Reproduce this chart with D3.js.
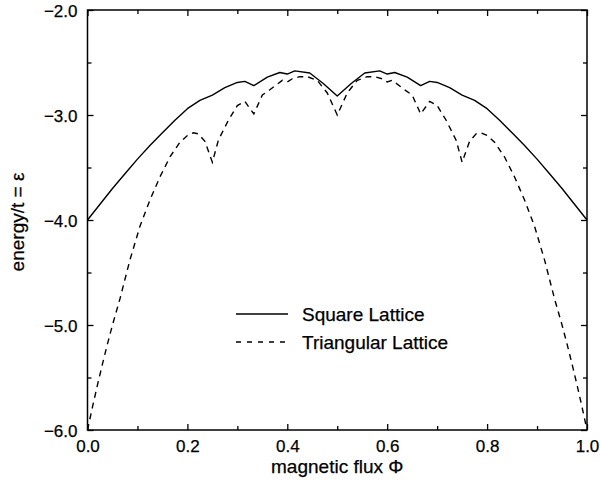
<!DOCTYPE html>
<html>
<head>
<meta charset="utf-8">
<script src="https://cdn.jsdelivr.net/npm/d3@7"></script>
<style>
  html, body { margin: 0; padding: 0; background: #fff; }
  svg { display: block; font-family: "Liberation Sans", Arial, Helvetica, sans-serif; }
</style>
</head>
<body>
<svg id="chart" width="600" height="483"></svg>
<script>
// flux values and energies
const phiSquare = [0, 0.025, 0.05, 0.075, 0.10, 0.125, 0.15, 0.175, 0.20, 0.225, 0.25, 0.275, 0.30, 0.315, 0.333, 0.36, 0.385, 0.40, 0.415, 0.445, 0.472, 0.50,
  0.528, 0.555, 0.585, 0.60, 0.615, 0.64, 0.667, 0.685, 0.70, 0.725, 0.75, 0.775, 0.80, 0.825, 0.85, 0.875, 0.90, 0.925, 0.95, 0.975, 1.0];
const energySquare = [-4.00, -3.85, -3.70, -3.56, -3.42, -3.29, -3.17, -3.05, -2.94, -2.86, -2.81, -2.74, -2.69, -2.68, -2.72, -2.64, -2.595, -2.61, -2.58, -2.60, -2.70, -2.82,
  -2.70, -2.60, -2.58, -2.61, -2.595, -2.64, -2.72, -2.68, -2.69, -2.74, -2.81, -2.86, -2.94, -3.05, -3.17, -3.29, -3.42, -3.56, -3.70, -3.85, -4.00];

const phiTriangular = [0, 0.01, 0.02, 0.03, 0.04, 0.05, 0.065, 0.085, 0.105, 0.125, 0.145, 0.165, 0.185, 0.20, 0.212, 0.222, 0.235, 0.25,
  0.262, 0.282, 0.30, 0.315, 0.333, 0.35, 0.365, 0.39, 0.40, 0.41, 0.425, 0.44, 0.46, 0.48, 0.50,
  0.52, 0.54, 0.56, 0.575, 0.59, 0.60, 0.61, 0.635, 0.65, 0.667, 0.685, 0.70, 0.718, 0.738, 0.75,
  0.765, 0.778, 0.788, 0.80, 0.815, 0.835, 0.855, 0.875, 0.895, 0.915, 0.935, 0.95, 0.96, 0.97, 0.98, 0.99, 1.0];
const energyTriangular = [-6.00, -5.78, -5.57, -5.37, -5.18, -5.00, -4.75, -4.38, -4.06, -3.81, -3.59, -3.40, -3.26, -3.195, -3.17, -3.18, -3.25, -3.45,
  -3.24, -3.05, -2.91, -2.87, -2.99, -2.81, -2.76, -2.67, -2.685, -2.655, -2.635, -2.635, -2.67, -2.79, -3.00,
  -2.79, -2.67, -2.635, -2.635, -2.655, -2.685, -2.67, -2.76, -2.81, -2.99, -2.87, -2.91, -3.05, -3.24, -3.45,
  -3.25, -3.18, -3.17, -3.195, -3.26, -3.40, -3.59, -3.81, -4.06, -4.38, -4.75, -5.00, -5.18, -5.37, -5.57, -5.78, -6.00];

const xMajor = [0, 0.2, 0.4, 0.6, 0.8, 1.0];
const xMinor = [0.1, 0.3, 0.5, 0.7, 0.9];
const yMajor = [-2, -3, -4, -5, -6];
const yMinor = [-2.5, -3.5, -4.5, -5.5];

const seriesNames = ["Square Lattice", "Triangular Lattice"];

const svg = d3.select("#chart");
const margin = { top: 10, right: 13, bottom: 53, left: 87.5 };
const width = 600, height = 483;
const innerW = width - margin.left - margin.right;
const innerH = height - margin.top - margin.bottom;

const g = svg.append("g").attr("transform", `translate(${margin.left},${margin.top})`);

const x = d3.scaleLinear().domain([0, 1]).range([0, innerW]);
const y = d3.scaleLinear().domain([-6, -2]).range([innerH, 0]);

const fmt = (d) => d3.format(".1f")(d).replace("-", "\u2212");

function ticks(axisGen, values, size, labels) {
  return axisGen.tickValues(values).tickSizeInner(size).tickSizeOuter(0)
    .tickFormat(labels ? fmt : () => "");
}

function styleAxis(sel) {
  sel.select(".domain").remove();
  sel.selectAll("line").attr("stroke", "#000").attr("stroke-width", 1.3);
  sel.selectAll("text").attr("fill", "#000").attr("font-size", 17)
    .attr("stroke", "#000").attr("stroke-width", 0.25);
}

// bottom
g.append("g").attr("transform", `translate(0,${innerH})`)
  .call(ticks(d3.axisBottom(x), xMajor, -6, true)).call(styleAxis)
  .selectAll("text").attr("y", 10).attr("dy", "0.71em");
g.append("g").attr("transform", `translate(0,${innerH})`)
  .call(ticks(d3.axisBottom(x), xMinor, -4, false)).call(styleAxis);
// top
g.append("g").call(ticks(d3.axisTop(x), xMajor, -6, false)).call(styleAxis);
g.append("g").call(ticks(d3.axisTop(x), xMinor, -4, false)).call(styleAxis);
// left
g.append("g").call(ticks(d3.axisLeft(y), yMajor, -6, true)).call(styleAxis)
  .selectAll("text").attr("x", -10).attr("dy", "0.36em");
g.append("g").call(ticks(d3.axisLeft(y), yMinor, -4, false)).call(styleAxis);
// right
g.append("g").attr("transform", `translate(${innerW},0)`)
  .call(ticks(d3.axisRight(y), yMajor, -6, false)).call(styleAxis);
g.append("g").attr("transform", `translate(${innerW},0)`)
  .call(ticks(d3.axisRight(y), yMinor, -4, false)).call(styleAxis);

g.append("rect")
  .attr("width", innerW).attr("height", innerH)
  .attr("fill", "none").attr("stroke", "#000").attr("stroke-width", 1.5);

const line = d3.line().x((d) => x(d[0])).y((d) => y(d[1]));

const squareData = phiSquare.map((p, i) => [p, energySquare[i]]);
const triData = phiTriangular.map((p, i) => [p, energyTriangular[i]]);

g.append("path").datum(squareData)
  .attr("fill", "none").attr("stroke", "#000").attr("stroke-width", 1.4)
  .attr("stroke-linejoin", "round")
  .attr("d", line);

g.append("path").datum(triData)
  .attr("fill", "none").attr("stroke", "#000").attr("stroke-width", 1.4)
  .attr("stroke-dasharray", "6 5")
  .attr("d", line);

// legend
const legend = g.append("g").attr("transform", `translate(${236 - margin.left},${314 - margin.top})`);
seriesNames.forEach((name, i) => {
  const row = legend.append("g").attr("transform", `translate(0,${i * 28})`);
  row.append("line")
    .attr("x1", 0).attr("x2", 52).attr("y1", 0).attr("y2", 0)
    .attr("stroke", "#000").attr("stroke-width", 1.4)
    .attr("stroke-dasharray", i === 1 ? "5 6" : null);
  row.append("text")
    .attr("x", 66).attr("y", 0).attr("dy", "0.36em")
    .attr("font-size", 19).attr("fill", "#000")
    .attr("stroke", "#000").attr("stroke-width", 0.25)
    .text(name);
});

// axis titles
g.append("text")
  .attr("x", innerW / 2).attr("y", innerH + 43)
  .attr("text-anchor", "middle").attr("font-size", 19).attr("fill", "#000")
  .attr("stroke", "#000").attr("stroke-width", 0.25)
  .text("magnetic flux \u03A6");

g.append("text")
  .attr("transform", `translate(${17 - margin.left},${222 - margin.top}) rotate(-90)`)
  .attr("text-anchor", "middle").attr("dy", "0.36em")
  .attr("font-size", 19).attr("fill", "#000")
  .attr("stroke", "#000").attr("stroke-width", 0.25)
  .text("energy/t = \u03B5");
</script>
</body>
</html>
